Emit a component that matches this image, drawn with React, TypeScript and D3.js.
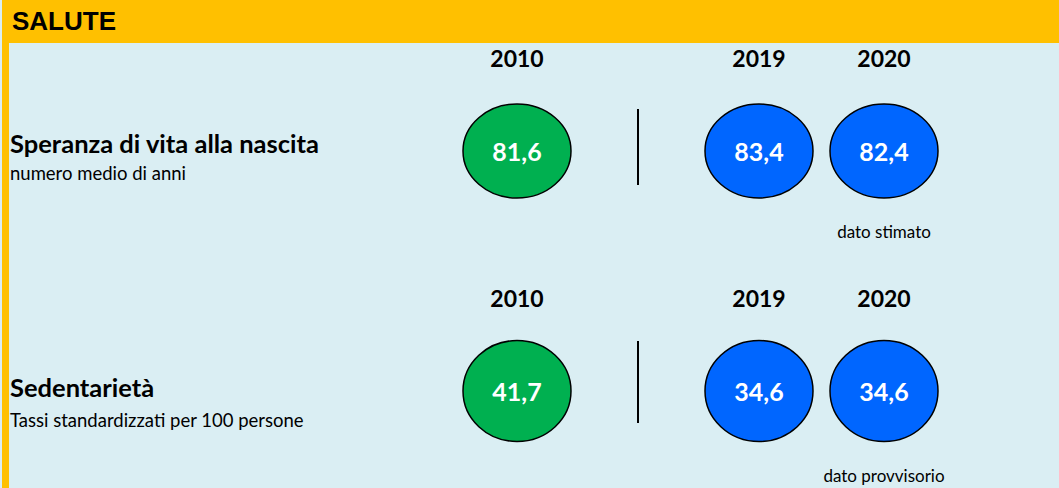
import React from "react";
import * as d3 from "d3";

const sectionTitle = "SALUTE";
const indicators = ["Speranza di vita alla nascita", "Sedentarietà"];
const subtitles = ["numero medio di anni", "Tassi standardizzati per 100 persone"];
const years = ["2010", "2019", "2020"];
const valuesSperanza = [81.6, 83.4, 82.4];
const valuesSedentarieta = [41.7, 34.6, 34.6];
const notes = ["dato stimato", "dato provvisorio"];

const W = 1059;
const H = 488;
const FONT = "Lato, 'Open Sans', sans-serif";

export default function App() {
  const rows = [valuesSperanza, valuesSedentarieta];
  const x = d3.scaleOrdinal<string, number>().domain(years).range([517, 759, 884]);
  const y = d3.scaleOrdinal<string, number>().domain(indicators).range([151, 391]);
  const ry = d3.scaleOrdinal<string, number>().domain(indicators).range([47, 50.5]);
  const color = d3.scaleOrdinal<string, string>().domain(years).range(["#00B050", "#0066FF", "#0066FF"]);
  const fmt = (v: number) => d3.format(".1f")(v).replace(".", ",");
  const dividerX = 638;

  return (
    <svg width={W} height={H} style={{ position: "absolute", left: 0, top: 0, display: "block" }}>
      <rect x={0} y={0} width={W} height={H} fill="#DAEEF3" />
      <rect x={2} y={0} width={W - 2} height={43} fill="#FFC000" />
      <rect x={2} y={0} width={7} height={H} fill="#FFC000" />
      <text x={12} y={30} fontFamily="'Liberation Sans', Arial, sans-serif" fontWeight="bold" fontSize={26} fill="#000">
        {sectionTitle}
      </text>
      {indicators.map((ind, i) => {
        const cy = y(ind);
        return (
          <g key={ind}>
            <text x={10} y={cy + (i === 0 ? 2 : 6)} fontFamily={FONT} fontWeight="bold" fontSize={25.5} fill="#000">
              {ind}
            </text>
            <text x={10} y={cy + (i === 0 ? 29 : 36)} fontFamily={FONT} fontSize={18.5} fill="#000">
              {subtitles[i]}
            </text>
            {years.map((yr) => (
              <text key={"y" + yr} x={x(yr)} y={cy - 84} textAnchor="middle" fontFamily={FONT} fontWeight="bold" fontSize={23} fill="#000">
                {yr}
              </text>
            ))}
            <line x1={dividerX} x2={dividerX} y1={cy - (i === 0 ? 42 : 50)} y2={cy + (i === 0 ? 34 : 32)} stroke="#000" strokeWidth={2} />
            {years.map((yr, j) => (
              <g key={"c" + yr}>
                <ellipse cx={x(yr)} cy={cy} rx={54} ry={ry(ind)} fill={color(yr)} stroke="#000" strokeWidth={1.5} />
                <text x={x(yr)} y={cy + 10} textAnchor="middle" fontFamily={FONT} fontWeight="bold" fontSize={25} fill="#fff">
                  {fmt(rows[i][j])}
                </text>
              </g>
            ))}
            <text x={x("2020")} y={cy + (i === 0 ? 87 : 91)} textAnchor="middle" fontFamily={FONT} fontSize={17} fill="#000">
              {notes[i]}
            </text>
          </g>
        );
      })}
    </svg>
  );
}
